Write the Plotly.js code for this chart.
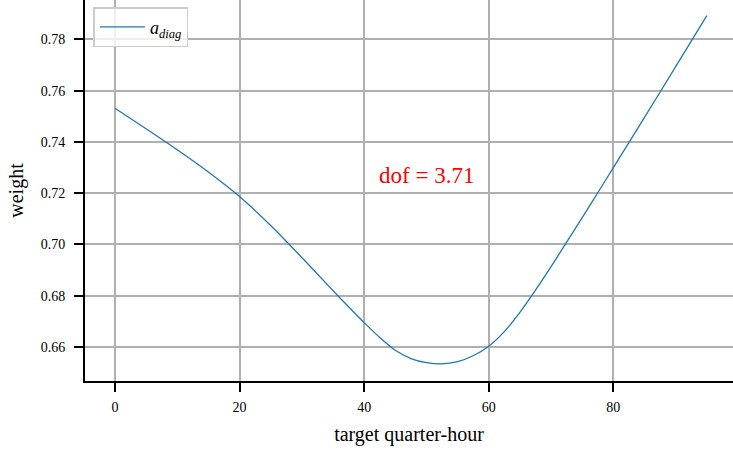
<!DOCTYPE html>
<html>
<head>
<meta charset="utf-8">
<script src="https://cdn.plot.ly/plotly-3.0.1.min.js"></script>
<style>
html, body { margin: 0; padding: 0; overflow: hidden; background: #fff; }
#chart { width: 733px; height: 455px; }
</style>
</head>
<body>
<div id="chart"></div>
<script>
// Data
const quarterHours = [0, 5, 10, 15, 20, 25, 30, 35, 37.5, 40, 42.5, 45, 47.5, 50, 52.5, 55, 57.5, 60, 62.5, 65, 67.5, 70, 72.5, 75, 77.5, 80, 85, 90, 95];
const weights = [0.7532, 0.7452, 0.7370, 0.7283, 0.7187, 0.7074, 0.6949, 0.6820, 0.6757, 0.6695, 0.6637, 0.6587, 0.6555, 0.6539, 0.6534, 0.6543, 0.6566, 0.6603, 0.6660, 0.6735, 0.6822, 0.6914, 0.7009, 0.7105, 0.7202, 0.7300, 0.7496, 0.7694, 0.7893];
const seriesName = '<i>a</i><sub><i>diag</i></sub>';
const dofLabel = 'dof = 3.71';
const xTicks = [0, 20, 40, 60, 80];
const yTicks = [0.66, 0.68, 0.70, 0.72, 0.74, 0.76, 0.78];

const serif = "'Liberation Serif', 'Times New Roman', Times, serif";

const trace = {
  x: quarterHours,
  y: weights,
  type: 'scatter',
  mode: 'lines',
  name: seriesName,
  line: { color: '#1f77b4', width: 1.3, shape: 'spline', smoothing: 0.8 }
};

const layout = {
  width: 733,
  height: 455,
  margin: { l: 85, r: 0, t: 0, b: 74 },
  paper_bgcolor: '#ffffff',
  plot_bgcolor: '#ffffff',
  font: { family: serif, color: '#000000', size: 14 },
  showlegend: true,
  legend: {
    x: 0.013, y: 0.981, xanchor: 'left', yanchor: 'top',
    bgcolor: 'rgba(255,255,255,0.8)',
    bordercolor: '#cccccc',
    borderwidth: 1.5,
    itemwidth: 45,
    font: { family: serif, size: 18, color: '#000' }
  },
  xaxis: {
    range: [-4.8, 99.2],
    tickmode: 'array',
    tickvals: xTicks,
    ticktext: xTicks.map(String),
    showgrid: true,
    gridcolor: '#b0b0b0',
    gridwidth: 2,
    zeroline: false,
    showline: true,
    linecolor: '#000000',
    linewidth: 2,
    ticks: 'outside',
    ticklen: 9,
    tickwidth: 2,
    tickcolor: '#000000',
    ticklabelstandoff: 3,
    tickfont: { family: serif, size: 14, color: '#000' },
    title: { text: 'target quarter-hour', font: { family: serif, size: 20 }, standoff: 13 }
  },
  yaxis: {
    range: [0.64673, 0.79541],
    tickmode: 'array',
    tickvals: yTicks,
    ticktext: yTicks.map(v => v.toFixed(2)),
    showgrid: true,
    gridcolor: '#b0b0b0',
    gridwidth: 2,
    zeroline: false,
    showline: true,
    linecolor: '#000000',
    linewidth: 2,
    ticks: 'outside',
    ticklen: 9,
    tickwidth: 2,
    tickcolor: '#000000',
    ticklabelstandoff: 6,
    tickfont: { family: serif, size: 14, color: '#000' },
    title: { text: 'weight', font: { family: serif, size: 20 }, standoff: 12 }
  },
  annotations: [{
    x: 50, y: 0.727, xref: 'x', yref: 'y',
    text: dofLabel,
    showarrow: false,
    xanchor: 'center', yanchor: 'middle',
    font: { family: 'Liberation Serif', size: 23, color: '#ff0000' }
  }]
};

Plotly.newPlot('chart', [trace], layout, { displayModeBar: false, staticPlot: true });
</script>
</body>
</html>
